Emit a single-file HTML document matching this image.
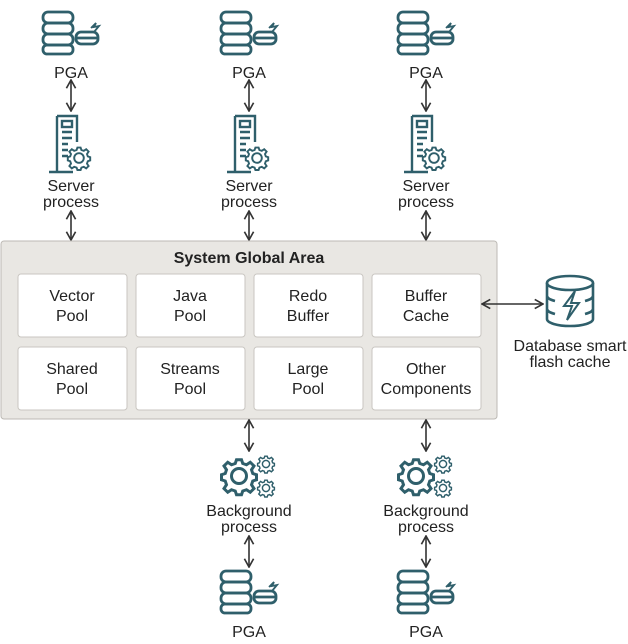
<!DOCTYPE html>
<html><head><meta charset="utf-8"><style>
body{margin:0;background:#fff}
text{font-family:"Liberation Sans",sans-serif;fill:#222;font-size:16px;text-anchor:middle}
</style></head><body>
<svg width="628" height="639" viewBox="0 0 628 639" xmlns="http://www.w3.org/2000/svg">
<defs>
<marker id="ah" viewBox="0 0 12 12" refX="11" refY="6" markerWidth="11" markerHeight="11" orient="auto-start-reverse" markerUnits="userSpaceOnUse"><path d="M2,1 L11,6 L2,11" fill="none" stroke="#333" stroke-width="1.8"/></marker>
<g id="pga" fill="none" stroke="#2f5f6b" stroke-width="2.8">
<rect x="-28" y="-20" width="30" height="11" rx="5"/>
<rect x="-28" y="-9" width="30" height="11" rx="5"/>
<rect x="-28" y="2" width="30" height="11" rx="5"/>
<rect x="-28" y="13" width="30" height="9" rx="4"/>
<rect x="5" y="0" width="22" height="12" rx="5"/>
<path d="M5,6 h22"/>
<path d="M20,-4 l5,-5 l-2,4 l5,-1 l-5,6" stroke-width="1.8"/>
</g>
<g id="gear" fill="none" stroke="#2f5f6b" stroke-width="2.4">
<circle r="6"/><path d="M-2,-13 h4 l1,3 l3,1 l3,-2 l3,3 l-2,3 l1,3 l3,1 v4 l-3,1 l-1,3 l2,3 l-3,3 l-3,-2 l-3,1 l-1,3 h-4 l-1,-3 l-3,-1 l-3,2 l-3,-3 l2,-3 l-1,-3 l-3,-1 v-4 l3,-1 l1,-3 l-2,-3 l3,-3 l3,2 l3,-1 z"/>
</g>
<g id="srv" fill="none" stroke="#2f5f6b" stroke-width="2.4">
<path d="M-14,-28 h20 v26 M-14,-28 v56 h16 M-22,28 h24"/>
<rect x="-9" y="-23" width="10" height="6"/><path d="M-9,-12 h10 M-9,-6 h10 M-9,0 h6 M-9,6 h6 M-9,12 h6"/>
<g transform="translate(8,14) scale(0.8)"><use href="#gear"/></g>
</g>
<g id="bg">
<use href="#gear" transform="translate(-8,0) scale(1.25)"/>
<use href="#gear" transform="translate(19,-12) scale(0.6)"/>
<use href="#gear" transform="translate(19,12) scale(0.6)"/>
</g>
</defs>

<g id="col">
<use href="#pga" transform="translate(71,32)"/>
<text x="71" y="78">PGA</text>
<line x1="71" y1="80" x2="71" y2="111" stroke="#333" stroke-width="1.6" marker-start="url(#ah)" marker-end="url(#ah)"/>
<use href="#srv" transform="translate(71,144)"/>
<text x="71" y="191">Server</text>
<text x="71" y="207">process</text>
<line x1="71" y1="211" x2="71" y2="240" stroke="#333" stroke-width="1.6" marker-start="url(#ah)" marker-end="url(#ah)"/>
</g>
<use href="#col" transform="translate(178,0)"/>
<use href="#col" transform="translate(355,0)"/>

<rect x="1" y="241" width="496" height="178" rx="3" fill="#e9e7e3" stroke="#bdbab5"/>
<text x="249" y="263" style="font-weight:bold">System Global Area</text>
<g fill="#fff" stroke="#c9c6c1">
<rect x="18" y="274" width="109" height="63" rx="3"/><rect x="136" y="274" width="109" height="63" rx="3"/>
<rect x="254" y="274" width="109" height="63" rx="3"/><rect x="372" y="274" width="109" height="63" rx="3"/>
<rect x="18" y="347" width="109" height="63" rx="3"/><rect x="136" y="347" width="109" height="63" rx="3"/>
<rect x="254" y="347" width="109" height="63" rx="3"/><rect x="372" y="347" width="109" height="63" rx="3"/>
</g>
<g style="fill:#444">
<text x="72" y="301">Vector</text><text x="72" y="321">Pool</text>
<text x="190" y="301">Java</text><text x="190" y="321">Pool</text>
<text x="308" y="301">Redo</text><text x="308" y="321">Buffer</text>
<text x="426" y="301">Buffer</text><text x="426" y="321">Cache</text>
<text x="72" y="374">Shared</text><text x="72" y="394">Pool</text>
<text x="190" y="374">Streams</text><text x="190" y="394">Pool</text>
<text x="308" y="374">Large</text><text x="308" y="394">Pool</text>
<text x="426" y="374">Other</text><text x="426" y="394">Components</text>
</g>

<line x1="482" y1="304" x2="543" y2="304" stroke="#333" stroke-width="1.6" marker-start="url(#ah)" marker-end="url(#ah)"/>
<g fill="none" stroke="#2f5f6b" stroke-width="2.6">
<ellipse cx="570" cy="283" rx="23" ry="7"/>
<path d="M547,283 v36 a23,7 0 0 0 46,0 v-36 M547,296 a23,7 0 0 0 8,5 M593,296 a23,7 0 0 1 -8,5 M547,309 a23,7 0 0 0 8,5 M593,309 a23,7 0 0 1 -8,5"/>
<path d="M575,291 l-11,15 h8 l-5,14 l12,-17 h-8 z" stroke-width="2"/>
</g>
<text x="570" y="351">Database smart</text>
<text x="570" y="367">flash cache</text>

<g id="bcol">
<line x1="249" y1="420" x2="249" y2="451" stroke="#333" stroke-width="1.6" marker-start="url(#ah)" marker-end="url(#ah)"/>
<use href="#bg" transform="translate(247,476)"/>
<text x="249" y="516">Background</text>
<text x="249" y="532">process</text>
<line x1="249" y1="536" x2="249" y2="567" stroke="#333" stroke-width="1.6" marker-start="url(#ah)" marker-end="url(#ah)"/>
<use href="#pga" transform="translate(249,591)"/>
<text x="249" y="637">PGA</text>
</g>
<use href="#bcol" transform="translate(177,0)"/>
</svg>
</body></html>
